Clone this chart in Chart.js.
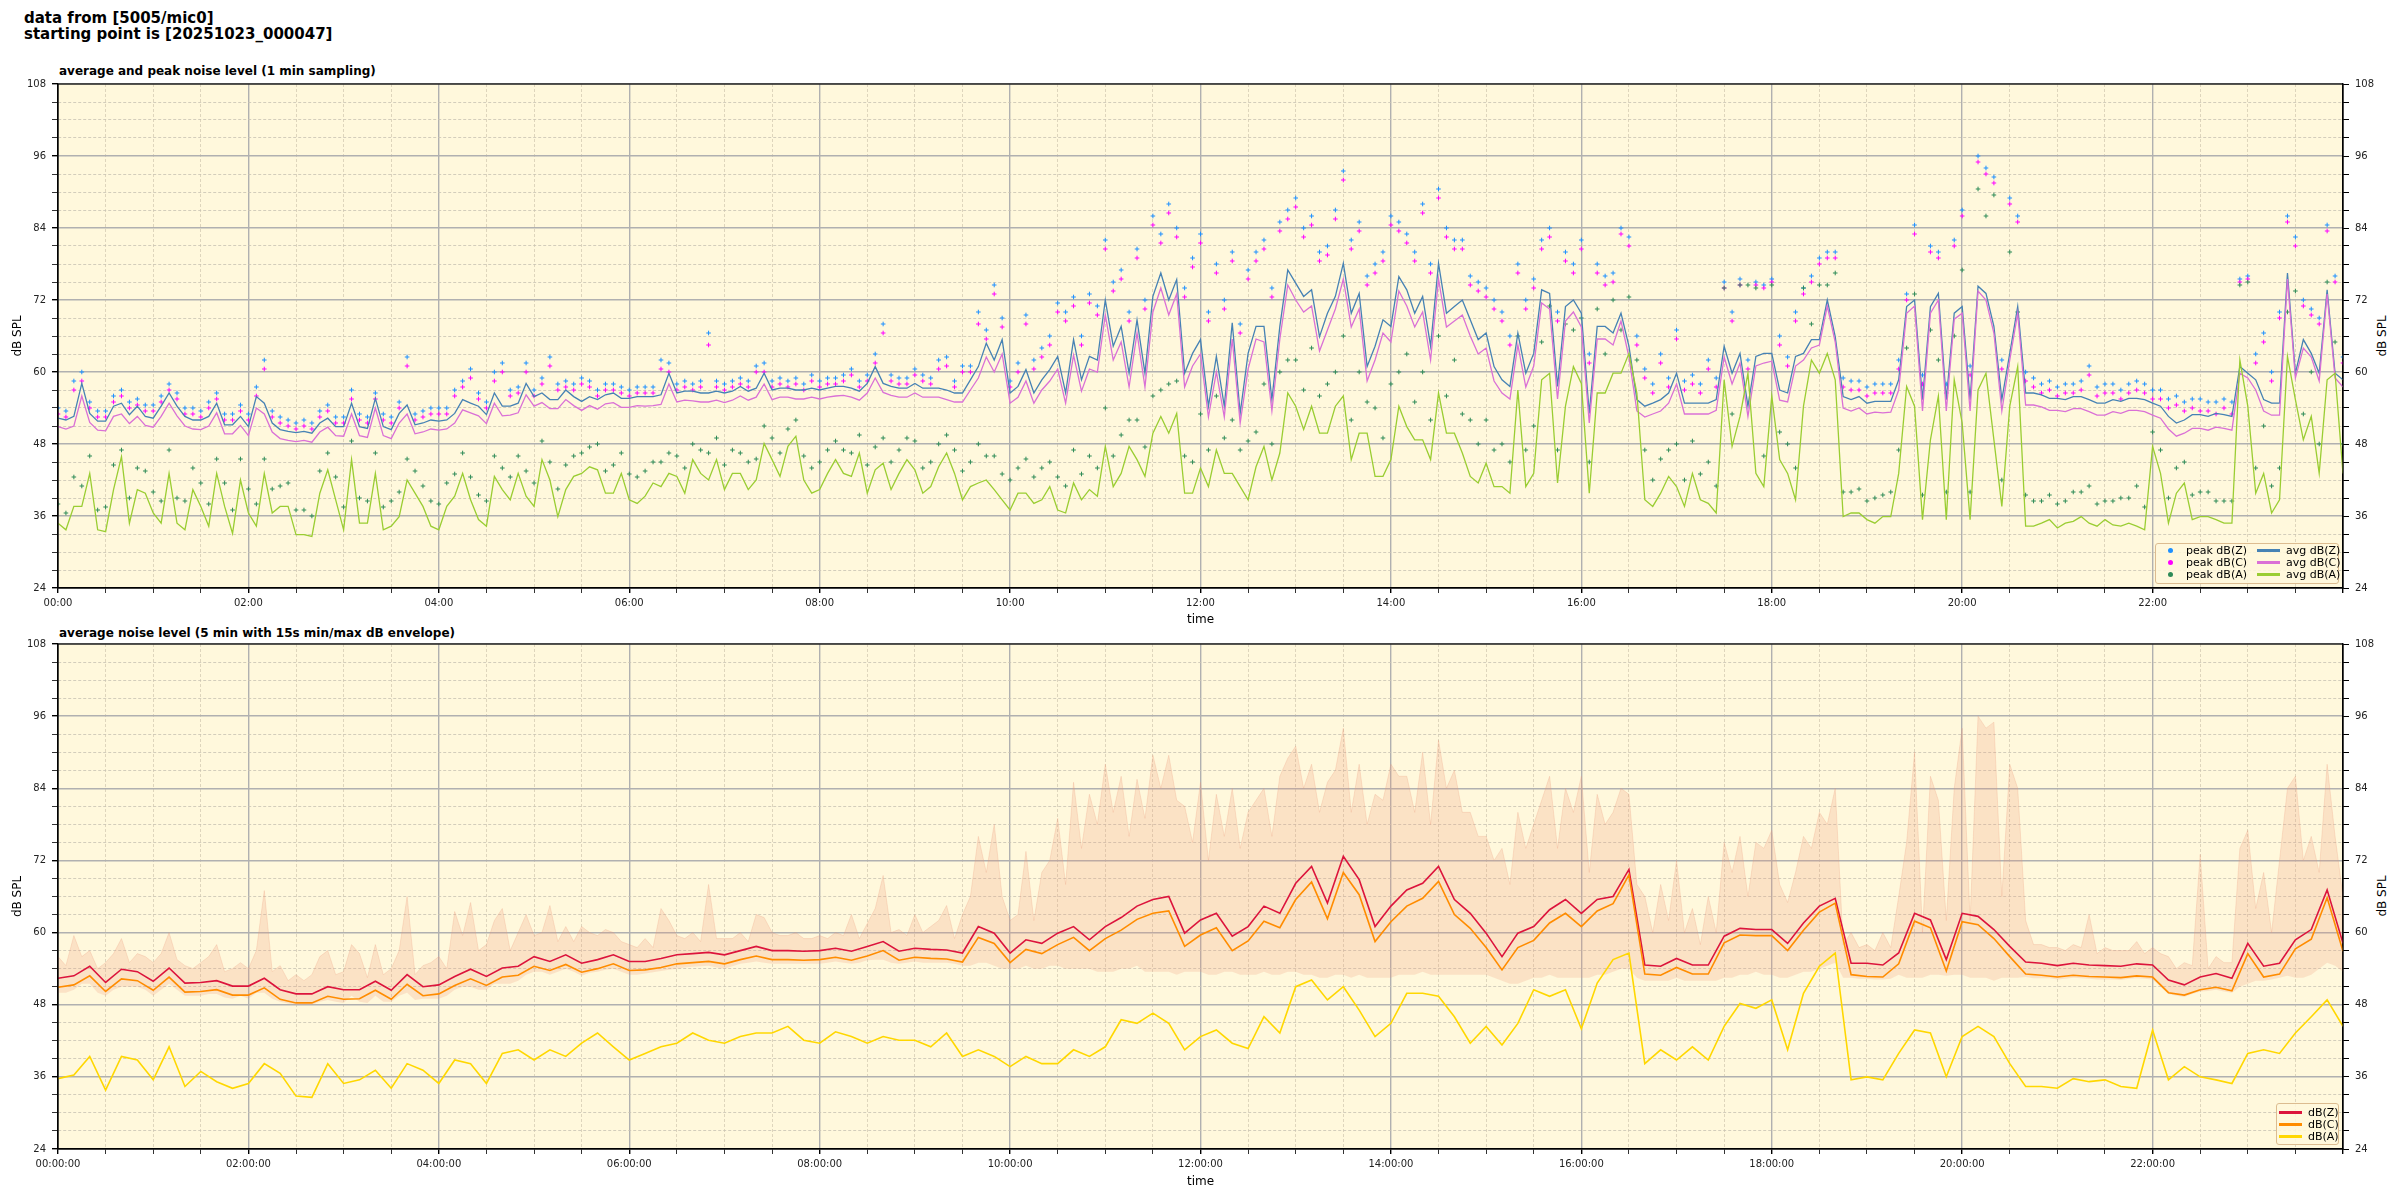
<!DOCTYPE html>
<html>
<head>
<meta charset="utf-8">
<script src="https://cdn.jsdelivr.net/npm/chart.js@4.4.1/dist/chart.umd.min.js"></script>
<style>
  html, body { margin: 0; padding: 0; background: #fff; }
  body { width: 2400px; height: 1200px; position: relative; overflow: hidden; font-family: "DejaVu Sans", sans-serif; color: #000; }
  canvas { position: absolute; left: 0; }
  #topCanvas { top: 0; }
  #botCanvas { top: 630px; }
  .head { position: absolute; left: 24px; top: 10px; font-weight: bold; font-size: 15px; line-height: 16px; }
  .sub { position: absolute; left: 59px; font-weight: bold; font-size: 12px; line-height: 14px; }
  .ylab-r { position: absolute; width: 60px; height: 14px; line-height: 14px; font-size: 12px; text-align: center; transform: rotate(-90deg); white-space: nowrap; }
  .legend { position: absolute; box-sizing: border-box; border: 1px solid #dcbc90; border-radius: 3px; background: rgba(255, 248, 220, 0.85); font-size: 11px; }
  .legend span { position: absolute; white-space: nowrap; line-height: 12px; }
  .legend i { position: absolute; display: block; }
</style>
</head>
<body>
<div class="head">data from [5005/mic0]<br>starting point is [20251023_000047]</div>
<div class="sub" style="top:64px">average and peak noise level (1 min sampling)</div>
<div class="sub" style="top:626px">average noise level (5 min with 15s min/max dB envelope)</div>
<div class="ylab-r" style="left:2352px; top:329px">dB SPL</div>
<div class="ylab-r" style="left:2352px; top:889px">dB SPL</div>

<canvas id="topCanvas" width="2400" height="630"></canvas>
<canvas id="botCanvas" width="2400" height="570"></canvas>

<div class="legend" style="left:2155px; top:543px; width:184px; height:41px;">
  <i style="left:12px; top:4px; width:5px; height:5px; border-radius:50%; background:#1e90ff"></i><span style="left:30px; top:1px">peak dB(Z)</span>
  <i style="left:12px; top:16px; width:5px; height:5px; border-radius:50%; background:#ff00ff"></i><span style="left:30px; top:13px">peak dB(C)</span>
  <i style="left:12px; top:28px; width:5px; height:5px; border-radius:50%; background:#2e8b57"></i><span style="left:30px; top:25px">peak dB(A)</span>
  <i style="left:101px; top:5px; width:23px; height:3px; background:#4682b4"></i><span style="left:130px; top:1px">avg dB(Z)</span>
  <i style="left:101px; top:17px; width:23px; height:3px; background:#da70d6"></i><span style="left:130px; top:13px">avg dB(C)</span>
  <i style="left:101px; top:29px; width:23px; height:3px; background:#9acd32"></i><span style="left:130px; top:25px">avg dB(A)</span>
</div>
<div class="legend" style="left:2276px; top:1103px; width:63px; height:42px;">
  <i style="left:2px; top:7px; width:23px; height:3px; background:#dc143c"></i><span style="left:31px; top:3px">dB(Z)</span>
  <i style="left:2px; top:19px; width:23px; height:3px; background:#ff8c00"></i><span style="left:31px; top:15px">dB(C)</span>
  <i style="left:2px; top:31px; width:23px; height:3px; background:#ffd700"></i><span style="left:31px; top:27px">dB(A)</span>
</div>

<script>
// 1 min sampling panel. Values on the 10 min marks (one row per hour, last value = 24:00),
// the *Mid arrays hold the readings 5 min after each mark.
const avgZ = [
  52.3, 52.6, 53.1, 51.8, 54.8, 54.3,
  52.3, 56.5, 52.6, 52.0, 54.8, 51.2,
  50.9, 54.8, 50.4, 49.9, 49.8, 52.3,
  50.9, 50.9, 55.6, 50.4, 54.5, 51.5,
  51.8, 53.1, 54.8, 52.9, 54.3, 54.8,
  55.9, 55.4, 57.0, 55.1, 55.4, 56.5,
  55.6, 55.9, 56.2, 56.5, 56.8, 56.5,
  56.5, 57.6, 57.3, 57.0, 57.3, 57.0,
  57.0, 57.6, 57.3, 58.1, 58.1, 57.3,
  58.1, 57.3, 57.0, 56.5, 60.9, 62.0,
  56.5, 60.4, 58.7, 62.6, 65.4, 62.6,
  72.0, 67.6, 68.7, 72.6, 72.0, 59.8,
  65.4, 62.6, 68.2, 63.1, 67.6, 67.6,
  74.8, 73.7, 69.8, 78.1, 73.1, 64.3,
  67.6, 73.7, 72.6, 78.1, 70.9, 68.7,
  66.5, 58.7, 66.5, 63.1, 73.1, 70.9,
  69.8, 67.6, 66.5, 64.3, 54.3, 55.4,
  59.8, 54.8, 54.8, 64.3, 63.1, 62.6,
  63.1, 56.5, 63.1, 65.4, 65.9, 55.4,
  54.8, 55.1, 58.7, 72.0, 70.9, 55.4,
  70.9, 74.3, 67.6, 63.1, 56.5, 56.2,
  55.6, 55.9, 55.4, 54.8, 55.1, 55.6,
  54.8, 52.6, 52.0, 52.9, 53.1, 52.6,
  59.8, 55.4, 54.8, 59.8, 63.1, 73.7,
  58.7
];
const avgZMid = [
  52.0, 58.1, 51.8, 54.3, 52.9, 52.6,
  54.3, 54.3, 52.0, 52.6, 51.2, 52.6,
  55.9, 51.5, 50.1, 50.1, 51.5, 50.9,
  54.8, 50.6, 50.9, 53.1, 51.2, 52.0,
  52.0, 55.4, 54.3, 56.5, 54.3, 58.1,
  56.5, 55.4, 55.9, 55.9, 56.2, 55.6,
  55.9, 55.9, 59.8, 56.8, 56.5, 56.8,
  56.8, 56.8, 59.8, 57.3, 57.0, 57.3,
  57.3, 57.6, 56.8, 60.9, 57.6, 57.3,
  57.3, 57.3, 56.5, 58.7, 64.8, 65.4,
  57.6, 56.5, 60.4, 56.5, 58.7, 62.0,
  64.3, 59.8, 59.8, 76.5, 75.4, 63.1,
  54.3, 54.3, 53.1, 67.6, 55.4, 77.0,
  72.6, 65.9, 72.6, 69.8, 60.9, 68.7,
  75.9, 69.8, 64.3, 69.8, 72.0, 65.4,
  60.9, 57.6, 59.8, 73.7, 57.6, 72.0,
  53.1, 67.6, 69.8, 55.4, 54.8, 56.5,
  54.8, 54.8, 55.4, 59.8, 54.3, 63.1,
  57.0, 62.6, 65.4, 72.0, 55.9, 55.9,
  55.1, 55.1, 70.9, 55.4, 73.1, 69.8,
  55.4, 73.1, 55.4, 70.9, 56.5, 55.6,
  55.4, 55.9, 54.8, 55.4, 55.6, 55.4,
  54.3, 51.5, 52.9, 52.6, 52.9, 60.9,
  58.7, 54.8, 76.5, 65.4, 59.8, 59.8
];
const avgC = [
  50.9, 51.0, 51.6, 50.2, 53.0, 52.6,
  50.8, 54.8, 51.0, 50.4, 53.2, 49.7,
  49.4, 53.0, 48.9, 48.4, 48.3, 50.8,
  49.3, 49.4, 54.0, 48.9, 53.0, 50.0,
  50.3, 51.5, 53.2, 51.4, 52.7, 53.2,
  54.3, 53.9, 55.4, 53.6, 53.8, 54.9,
  54.1, 54.3, 54.6, 55.0, 55.2, 55.0,
  54.9, 56.0, 55.8, 55.4, 55.8, 55.5,
  55.5, 56.0, 55.8, 56.5, 56.6, 55.8,
  56.5, 55.8, 55.4, 55.0, 59.0, 60.0,
  54.8, 58.5, 57.0, 60.5, 62.8, 60.5,
  69.5, 65.0, 66.5, 70.0, 69.5, 57.5,
  63.0, 60.0, 65.5, 60.5, 65.0, 65.5,
  72.0, 71.0, 67.0, 75.5, 70.5, 62.0,
  65.0, 71.0, 70.0, 75.5, 68.5, 66.0,
  64.0, 56.5, 64.5, 61.0, 70.5, 68.5,
  67.5, 65.5, 64.5, 62.5, 52.5, 53.5,
  58.0, 53.0, 53.0, 62.5, 61.5, 61.0,
  61.8, 55.0, 62.0, 64.5, 65.0, 53.5,
  53.0, 53.2, 57.0, 71.0, 69.8, 53.5,
  69.8, 73.5, 66.5, 62.0, 54.5, 54.2,
  53.6, 53.9, 53.4, 52.8, 53.1, 53.6,
  52.8, 50.5, 49.8, 50.6, 50.8, 50.3,
  59.0, 53.5, 52.8, 59.0, 62.5, 73.0,
  57.5
];
const avgCMid = [
  50.5, 56.0, 50.3, 52.6, 51.4, 51.1,
  52.6, 52.7, 50.5, 51.0, 49.7, 51.1,
  54.0, 50.0, 48.6, 48.6, 50.0, 49.4,
  53.0, 49.1, 49.4, 51.5, 49.7, 50.5,
  50.5, 53.7, 52.7, 54.8, 52.8, 56.2,
  54.9, 53.9, 54.4, 54.4, 54.7, 54.1,
  54.4, 54.4, 58.0, 55.3, 55.0, 55.3,
  55.3, 55.3, 58.0, 55.8, 55.5, 55.8,
  55.8, 56.1, 55.3, 59.0, 56.1, 55.8,
  55.8, 55.8, 55.0, 57.0, 62.5, 63.0,
  55.8, 54.8, 58.5, 54.8, 56.8, 60.0,
  62.0, 57.5, 57.5, 74.0, 73.0, 61.0,
  52.5, 52.5, 51.5, 65.5, 53.5, 74.5,
  70.0, 63.5, 70.5, 67.5, 58.5, 66.5,
  73.5, 67.5, 62.0, 67.5, 69.5, 63.0,
  58.5, 55.5, 57.5, 71.5, 55.5, 70.0,
  51.5, 65.5, 68.5, 53.5, 53.0, 54.8,
  53.0, 53.0, 53.6, 58.0, 52.6, 61.5,
  55.3, 61.0, 64.0, 71.0, 54.0, 54.0,
  53.3, 53.3, 69.8, 53.5, 72.0, 68.8,
  53.5, 72.0, 53.5, 69.8, 54.5, 53.6,
  53.4, 53.9, 52.8, 53.4, 53.6, 53.4,
  52.3, 49.3, 50.6, 50.3, 50.6, 59.8,
  57.0, 52.8, 75.5, 64.0, 58.5, 59.0
];
const avgA = [
  34.8, 37.6, 43.1, 33.4, 45.9, 40.4,
  36.5, 43.1, 33.7, 37.6, 43.1, 33.1,
  36.5, 43.1, 37.6, 32.9, 32.6, 43.7,
  33.7, 34.8, 43.1, 34.3, 42.0, 37.6,
  33.7, 39.3, 38.7, 34.3, 40.4, 43.1,
  37.6, 42.0, 40.4, 43.1, 43.7, 39.8,
  38.7, 39.3, 40.9, 42.6, 45.4, 42.0,
  40.4, 43.1, 42.0, 45.4, 47.6, 42.0,
  40.4, 45.4, 42.6, 39.8, 44.8, 43.1,
  43.7, 40.9, 46.5, 38.7, 41.5, 40.4,
  37.0, 39.8, 38.7, 37.0, 41.5, 40.4,
  47.6, 43.1, 45.4, 49.8, 49.8, 39.8,
  44.0, 47.0, 43.1, 38.7, 47.6, 46.5,
  54.3, 54.3, 49.8, 56.0, 49.8, 42.6,
  45.4, 50.9, 48.7, 56.5, 49.8, 42.6,
  44.8, 40.9, 57.0, 43.1, 59.8, 54.3,
  58.1, 56.5, 59.8, 63.1, 38.7, 39.8,
  40.9, 43.1, 38.1, 58.7, 52.6, 43.1,
  56.0, 43.1, 54.3, 59.8, 58.7, 36.5,
  35.4, 35.9, 43.1, 54.3, 48.7, 35.4,
  51.5, 57.0, 48.7, 54.3, 34.3, 34.8,
  34.0, 35.1, 34.8, 35.4, 34.3, 34.3,
  47.6, 34.8, 41.5, 35.9, 35.4, 34.8,
  54.3, 43.1, 38.7, 55.4, 52.6, 58.7,
  43.1
];
const avgAMid = [
  33.7, 37.6, 33.7, 40.4, 34.8, 39.8,
  34.8, 34.8, 40.4, 34.3, 37.6, 42.0,
  34.3, 36.5, 37.6, 32.9, 39.8, 38.7,
  45.4, 34.8, 33.7, 35.9, 39.8, 34.3,
  37.6, 43.1, 35.4, 42.6, 38.7, 39.3,
  45.4, 35.9, 42.6, 44.2, 39.8, 43.1,
  38.1, 41.5, 43.1, 39.8, 43.1, 45.4,
  43.1, 40.4, 48.1, 42.6, 49.3, 39.8,
  43.1, 43.1, 46.5, 43.7, 40.4, 45.4,
  39.8, 44.2, 43.1, 40.9, 42.0, 38.7,
  39.8, 38.1, 40.9, 36.5, 38.7, 39.3,
  40.9, 47.6, 42.6, 52.6, 53.1, 39.8,
  40.9, 43.1, 40.9, 44.2, 42.0, 56.5,
  50.4, 49.8, 54.3, 45.4, 49.8, 42.6,
  54.3, 48.7, 45.4, 49.8, 46.5, 41.5,
  40.9, 39.8, 40.9, 58.7, 41.5, 60.9,
  39.8, 56.5, 59.8, 56.5, 37.6, 42.6,
  37.6, 38.7, 36.5, 47.6, 59.8, 40.9,
  45.4, 38.7, 62.0, 63.1, 35.9, 36.5,
  34.8, 35.9, 57.6, 35.4, 56.0, 58.7,
  35.4, 59.8, 37.6, 60.9, 34.3, 35.4,
  34.8, 35.9, 34.3, 34.5, 34.8, 33.7,
  43.1, 39.8, 35.4, 35.9, 34.8, 62.0,
  39.8, 36.5, 62.6, 48.7, 43.1, 59.8
];
const peakZ = [
  54.0, 58.5, 55.0, 53.5, 57.0, 55.5,
  54.5, 58.0, 54.0, 53.5, 56.5, 53.0,
  53.0, 62.0, 52.5, 51.5, 51.5, 54.5,
  52.5, 53.0, 56.5, 52.5, 62.5, 53.5,
  54.0, 57.0, 60.5, 55.0, 61.5, 57.5,
  57.0, 62.5, 58.5, 59.0, 57.0, 58.0,
  57.0, 57.5, 62.0, 58.0, 58.0, 66.5,
  58.0, 59.0, 61.0, 58.5, 58.5, 58.0,
  58.5, 59.0, 60.5, 59.5, 68.0, 59.0,
  60.5, 59.0, 62.5, 61.0, 70.0, 74.5,
  58.5, 69.5, 64.0, 71.5, 72.5, 73.0,
  82.0, 77.0, 80.5, 86.0, 88.0, 74.0,
  83.0, 78.0, 80.0, 77.0, 82.0, 85.0,
  89.0, 86.0, 81.0, 93.5, 85.0, 78.0,
  86.0, 83.0, 88.0, 90.5, 82.0, 76.0,
  74.0, 70.0, 78.0, 75.5, 84.0, 80.0,
  82.0, 78.0, 76.5, 82.5, 60.5, 63.0,
  67.0, 59.5, 62.0, 75.0, 75.5, 75.0,
  75.5, 62.5, 74.0, 79.0, 80.0, 58.5,
  57.5, 58.0, 62.0, 84.5, 81.0, 58.0,
  87.0, 96.0, 92.5, 89.0, 60.0, 58.0,
  57.5, 58.0, 61.0, 58.0, 57.0, 58.5,
  57.0, 55.5, 55.0, 55.5, 55.0, 55.0,
  76.0, 66.5, 70.0, 82.5, 70.5, 84.5,
  62.5
];
const peakZMid = [
  53.5, 60.0, 53.5, 56.0, 55.0, 54.5,
  56.0, 56.5, 54.0, 55.0, 53.0, 54.5,
  57.5, 53.5, 52.0, 52.0, 53.5, 52.5,
  57.0, 52.5, 53.0, 55.0, 53.0, 54.0,
  54.0, 58.5, 56.5, 60.0, 57.0, 61.5,
  59.0, 58.0, 58.0, 58.5, 58.0, 57.5,
  57.5, 57.5, 61.5, 58.5, 58.5, 58.5,
  58.5, 58.5, 61.5, 59.0, 59.0, 59.5,
  59.0, 59.5, 58.5, 63.0, 59.5, 59.0,
  59.5, 62.0, 58.5, 61.0, 67.0, 69.0,
  61.5, 62.0, 66.0, 70.0, 66.0, 71.0,
  75.0, 70.0, 72.0, 83.0, 84.0, 79.0,
  70.0, 72.0, 68.0, 80.0, 74.0, 87.0,
  84.0, 80.0, 87.0, 82.0, 76.0, 80.0,
  85.0, 80.0, 78.0, 84.0, 82.0, 75.0,
  72.0, 66.0, 72.0, 82.0, 70.0, 78.0,
  63.0, 76.0, 84.0, 66.0, 58.0, 59.0,
  58.5, 58.0, 59.0, 70.0, 62.0, 74.5,
  66.0, 70.0, 76.0, 80.0, 59.0, 58.5,
  58.0, 58.0, 73.0, 59.5, 80.0, 82.0,
  61.0, 94.0, 62.0, 86.0, 59.0, 58.5,
  58.0, 58.5, 57.5, 58.0, 58.0, 58.0,
  57.0, 56.0, 55.5, 55.0, 55.5, 75.5,
  63.0, 60.0, 86.0, 72.0, 69.0, 76.0
];
const peakC = [
  53.0, 57.0, 54.0, 52.5, 56.0, 54.5,
  53.5, 57.0, 53.0, 52.5, 55.5, 52.0,
  52.0, 60.5, 51.5, 50.5, 50.5, 53.5,
  51.5, 52.0, 55.5, 51.5, 61.0, 52.5,
  53.0, 56.0, 59.0, 54.0, 60.0, 56.5,
  56.0, 61.0, 57.5, 58.0, 56.0, 57.0,
  56.0, 56.5, 60.5, 57.0, 57.0, 64.5,
  57.0, 58.0, 60.0, 57.5, 57.5, 57.0,
  57.5, 58.0, 59.5, 58.5, 66.5, 58.0,
  59.5, 58.0, 61.0, 60.0, 68.0, 73.0,
  57.5, 68.0, 62.5, 70.0, 71.0, 71.5,
  80.5, 75.5, 79.0, 84.5, 86.5, 72.5,
  81.5, 76.5, 78.5, 75.5, 80.5, 83.5,
  87.5, 84.5, 79.5, 92.0, 83.5, 76.5,
  84.5, 81.5, 86.5, 89.0, 80.5, 74.5,
  72.5, 68.5, 76.5, 74.0, 82.5, 78.5,
  80.5, 76.5, 75.0, 81.0, 59.0, 61.5,
  65.5, 58.0, 60.5, 74.0, 74.5, 74.5,
  75.0, 61.0, 73.0, 78.0, 79.0, 57.0,
  56.0, 56.5, 60.5, 83.0, 80.0, 56.5,
  86.0, 95.0, 91.5, 88.0, 58.5, 56.5,
  56.0, 56.5, 59.5, 56.5, 55.5, 57.0,
  55.5, 54.0, 53.5, 53.5, 53.0, 53.0,
  75.5, 65.0, 69.0, 81.0, 69.5, 83.5,
  61.5
];
const peakCMid = [
  52.5, 58.5, 52.5, 55.0, 54.0, 53.5,
  55.0, 55.5, 53.0, 54.0, 52.0, 53.5,
  56.0, 52.5, 51.0, 51.0, 52.5, 51.5,
  55.5, 51.5, 52.0, 54.0, 52.0, 53.0,
  53.0, 57.5, 55.5, 58.5, 56.0, 60.0,
  58.0, 57.0, 57.0, 57.5, 57.0, 56.5,
  56.5, 56.5, 60.0, 57.5, 57.5, 57.5,
  57.5, 57.5, 60.0, 58.0, 58.0, 58.5,
  58.0, 58.5, 57.5, 61.5, 58.5, 58.0,
  58.5, 60.5, 57.5, 60.0, 65.5, 67.5,
  60.0, 60.5, 64.5, 68.5, 64.5, 69.5,
  73.5, 68.5, 70.5, 81.5, 82.5, 77.5,
  68.5, 70.5, 66.5, 78.5, 72.5, 85.5,
  82.5, 78.5, 85.5, 80.5, 74.5, 78.5,
  83.5, 78.5, 76.5, 82.5, 80.5, 73.5,
  70.5, 64.5, 70.5, 80.5, 68.5, 76.5,
  61.5, 74.5, 83.0, 64.5, 56.5, 57.5,
  57.0, 56.5, 57.5, 68.5, 60.5, 74.0,
  64.5, 68.5, 75.0, 79.0, 57.5, 57.0,
  56.5, 56.5, 72.0, 58.0, 79.0, 81.0,
  59.5, 93.0, 60.5, 85.0, 57.5, 57.0,
  56.5, 57.0, 56.0, 56.5, 56.5, 56.5,
  55.5, 54.5, 54.0, 53.5, 54.0, 75.0,
  61.5, 58.5, 85.0, 71.0, 68.0, 75.0
];
const peakA = [
  38.0, 42.5, 46.0, 37.5, 47.0, 44.0,
  40.0, 47.0, 38.5, 41.5, 45.5, 37.0,
  40.5, 45.5, 41.0, 37.0, 36.0, 46.5,
  37.5, 39.0, 46.5, 38.5, 45.5, 41.0,
  38.0, 43.0, 42.5, 38.5, 44.0, 46.0,
  41.5, 45.0, 44.5, 46.5, 48.0, 44.5,
  43.0, 43.5, 45.0, 46.0, 48.0, 46.5,
  44.5, 46.5, 45.5, 49.0, 50.5, 46.0,
  45.0, 48.5, 46.5, 44.5, 49.0, 47.0,
  48.5, 45.0, 49.5, 43.5, 48.0, 46.0,
  42.0, 45.5, 44.0, 42.5, 47.0, 46.0,
  54.0, 49.5, 52.0, 56.0, 58.0, 46.0,
  53.0, 56.0, 52.0, 48.5, 58.0, 60.0,
  62.0, 64.0, 58.0, 66.0, 60.0, 54.0,
  58.0, 63.0, 60.0, 66.0, 62.0, 52.0,
  52.0, 48.0, 66.0, 51.0, 71.0, 68.0,
  69.0, 70.5, 72.0, 72.5, 47.0, 45.5,
  48.0, 48.5, 45.0, 74.0, 74.5, 74.0,
  74.5, 48.0, 74.0, 74.5, 76.5, 40.0,
  38.5, 39.5, 47.0, 73.0, 67.0, 40.0,
  77.0, 90.5, 89.5, 80.0, 39.5, 38.5,
  38.0, 40.0, 41.0, 38.5, 39.0, 41.0,
  50.0, 39.0, 45.0, 40.0, 38.5, 38.5,
  75.0, 51.0, 44.0, 73.5, 60.0, 75.0,
  48.0
];
const peakAMid = [
  36.5, 41.0, 37.0, 44.5, 39.0, 43.5,
  38.5, 39.0, 44.0, 38.0, 41.5, 45.5,
  38.0, 40.5, 41.5, 37.0, 43.5, 42.5,
  48.5, 38.5, 37.5, 40.0, 43.5, 38.5,
  41.5, 46.5, 39.5, 46.0, 42.5, 43.5,
  48.5, 40.5, 46.0, 47.5, 43.5, 46.5,
  42.5, 45.0, 46.5, 44.0, 47.0, 49.0,
  47.0, 45.0, 51.0, 46.5, 52.0, 44.0,
  47.0, 47.0, 49.5, 47.5, 45.0, 49.0,
  44.0, 48.0, 47.0, 45.0, 46.0, 43.0,
  44.0, 42.5, 45.0, 41.0, 43.0, 44.0,
  46.0, 52.0, 47.5, 57.0, 58.5, 45.0,
  47.0, 49.0, 47.0, 50.0, 48.0, 62.0,
  57.0, 56.0, 60.0, 52.0, 55.0, 49.0,
  60.0, 55.0, 52.0, 56.0, 53.0, 48.0,
  47.0, 45.0, 47.0, 65.0, 47.0, 67.0,
  45.0, 63.0, 67.0, 62.0, 42.0, 47.0,
  42.0, 43.0, 41.0, 53.0, 74.5, 46.0,
  50.0, 44.0, 68.0, 74.5, 40.0, 40.5,
  39.0, 40.0, 64.0, 39.5, 62.0, 66.0,
  40.0, 86.0, 42.0, 70.0, 38.5, 39.5,
  38.5, 40.0, 38.0, 38.5, 39.0, 37.5,
  47.0, 44.0, 39.5, 40.0, 38.5, 74.5,
  44.0, 41.0, 70.0, 53.0, 48.0, 65.0
];

// 5 min average panel, read every 10 min
const lvlZ = [
  52.4, 52.8, 54.4, 51.7, 53.9, 53.5,
  51.9, 54.1, 51.6, 51.7, 52.0, 51.1,
  51.1, 52.4, 50.5, 49.8, 49.8, 51.0,
  50.5, 50.5, 51.9, 50.4, 53.0, 51.0,
  51.3, 52.7, 53.9, 52.7, 54.1, 54.4,
  56.0, 55.2, 56.3, 54.9, 55.5, 56.3,
  55.2, 55.2, 55.7, 56.3, 56.5, 56.7,
  56.3, 57.0, 57.7, 57.0, 57.0, 56.9,
  57.0, 57.4, 56.9, 57.7, 58.5, 56.9,
  57.4, 57.2, 57.1, 56.6, 61.0, 59.9,
  56.6, 58.8, 58.2, 59.9, 61.0, 58.8,
  61.0, 62.5, 64.4, 65.5, 66.0, 59.9,
  62.1, 63.2, 59.4, 61.0, 64.4, 63.2,
  68.2, 71.0, 64.9, 72.7, 68.8, 61.0,
  64.4, 67.1, 68.2, 71.0, 65.5, 63.2,
  59.9, 56.0, 59.9, 61.0, 63.8, 65.5,
  63.2, 65.5, 66.0, 70.5, 54.6, 54.4,
  55.7, 54.6, 54.6, 59.4, 60.7, 60.5,
  60.5, 58.2, 61.6, 64.4, 65.7, 54.9,
  54.9, 54.6, 56.6, 63.2, 62.1, 55.5,
  63.2, 62.7, 60.5, 57.7, 55.1, 54.9,
  54.5, 54.9, 54.6, 54.5, 54.4, 54.8,
  54.6, 52.1, 51.3, 52.6, 53.2, 52.4,
  58.2, 54.4, 54.9, 58.8, 60.5, 67.1,
  58.2
];
const lvlC = [
  50.9, 51.3, 52.8, 50.2, 52.3, 52.0,
  50.4, 52.6, 50.1, 50.2, 50.5, 49.6,
  49.6, 50.8, 48.9, 48.3, 48.3, 49.4,
  48.9, 49.0, 50.4, 48.9, 51.4, 49.5,
  49.8, 51.2, 52.3, 51.2, 52.6, 52.9,
  54.4, 53.7, 54.7, 53.4, 54.0, 54.8,
  53.7, 53.8, 54.2, 54.8, 55.0, 55.2,
  54.8, 55.5, 56.1, 55.5, 55.5, 55.4,
  55.5, 55.9, 55.4, 56.1, 57.0, 55.4,
  55.9, 55.7, 55.6, 55.1, 59.2, 58.2,
  55.0, 57.2, 56.5, 58.0, 59.2, 57.0,
  59.0, 60.4, 62.2, 63.2, 63.6, 57.7,
  59.6, 60.8, 57.0, 58.6, 61.9, 60.8,
  65.5, 68.4, 62.3, 70.0, 66.3, 58.5,
  61.8, 64.4, 65.7, 68.5, 63.0, 60.7,
  57.5, 53.8, 57.5, 58.7, 61.6, 63.2,
  61.0, 63.6, 64.8, 69.6, 53.1, 52.9,
  54.2, 53.1, 53.1, 58.3, 59.6, 59.5,
  59.5, 57.0, 60.4, 63.4, 64.9, 53.0,
  52.7, 52.6, 54.8, 61.9, 60.8, 53.6,
  61.8, 61.3, 59.0, 56.0, 53.1, 52.9,
  52.6, 52.9, 52.7, 52.6, 52.5, 52.8,
  52.6, 50.0, 49.6, 50.5, 50.9, 50.3,
  56.5, 52.6, 53.1, 57.3, 58.9, 65.8,
  56.9
];
const lvlA = [
  35.7, 36.3, 39.4, 33.8, 39.4, 38.8,
  35.5, 41.0, 34.4, 36.9, 35.2, 34.1,
  34.9, 38.2, 36.6, 32.8, 32.6, 38.2,
  34.9, 35.5, 37.1, 34.1, 38.2, 37.1,
  34.9, 38.8, 38.2, 34.9, 39.9, 40.5,
  38.8, 40.5, 39.4, 41.6, 43.3, 41.0,
  38.8, 39.9, 41.0, 41.6, 43.3, 42.1,
  41.6, 42.7, 43.3, 43.3, 44.4, 42.1,
  41.6, 43.5, 42.7, 41.6, 42.7, 42.1,
  42.1, 41.0, 43.3, 39.4, 40.5, 39.4,
  37.7, 39.4, 38.2, 38.2, 40.5, 39.4,
  41.0, 45.5, 44.9, 46.6, 44.9, 40.5,
  42.7, 43.8, 41.6, 40.7, 46.0, 43.3,
  51.0, 52.1, 48.8, 51.0, 47.1, 42.7,
  44.9, 49.9, 49.9, 49.4, 46.0, 41.6,
  44.4, 41.3, 44.9, 50.5, 49.4, 50.5,
  44.0, 51.6, 55.5, 56.6, 38.2, 40.5,
  38.8, 41.0, 38.8, 44.4, 48.2, 47.4,
  48.8, 40.5, 49.9, 54.4, 56.6, 35.5,
  36.0, 35.5, 39.9, 43.8, 43.3, 36.0,
  42.7, 44.4, 42.7, 38.2, 34.4, 34.4,
  34.1, 35.7, 35.2, 35.5, 34.4, 34.1,
  43.8, 35.5, 37.7, 36.0, 35.5, 34.9,
  39.9, 40.5, 39.9, 43.3, 46.0, 48.8,
  44.4
];
// 15 s min / max envelope, on the 10 min marks and 5 min after them
const envMin = [
  50.0, 50.5, 51.5, 49.5, 51.0, 51.0,
  49.5, 51.5, 49.5, 49.5, 49.8, 49.0,
  49.0, 50.0, 48.5, 48.0, 48.0, 48.8,
  48.3, 48.5, 49.5, 48.5, 50.0, 49.0,
  49.0, 50.5, 51.0, 50.5, 51.5, 52.0,
  53.5, 53.0, 54.0, 52.8, 53.5, 54.0,
  53.0, 53.2, 53.6, 54.0, 54.3, 54.5,
  54.0, 54.8, 55.2, 54.8, 54.8, 54.8,
  54.8, 55.2, 54.8, 55.4, 55.5, 54.8,
  55.2, 55.0, 55.0, 54.5, 55.0, 54.5,
  54.0, 54.5, 54.0, 54.5, 54.0, 54.0,
  53.5, 54.0, 54.5, 53.5, 53.5, 53.5,
  53.5, 53.0, 53.5, 53.0, 53.5, 53.0,
  53.5, 53.0, 52.5, 53.0, 53.0, 52.5,
  52.5, 53.0, 53.5, 53.0, 53.0, 53.0,
  53.0, 52.0, 51.5, 52.5, 53.0, 52.5,
  52.5, 53.0, 53.5, 54.0, 52.0, 52.0,
  52.5, 52.0, 52.0, 52.5, 53.0, 53.5,
  53.0, 52.5, 53.5, 54.0, 55.0, 52.5,
  52.3, 52.2, 53.0, 52.5, 53.0, 52.8,
  53.0, 52.5, 52.0, 52.5, 52.6, 52.4,
  52.2, 52.5, 52.3, 52.2, 52.1, 52.4,
  52.2, 49.8, 49.3, 50.2, 50.5, 50.0,
  51.5, 52.0, 52.5, 52.5, 53.0, 55.0,
  53.5
];
const envMinMid = [
  50.0, 51.5, 50.0, 50.5, 51.0, 50.5,
  50.5, 50.5, 49.5, 49.8, 49.2, 49.5,
  50.0, 49.0, 48.2, 48.0, 48.5, 48.5,
  49.5, 48.3, 48.5, 49.5, 48.8, 49.0,
  49.5, 51.0, 50.5, 51.5, 51.5, 53.0,
  53.5, 53.5, 53.5, 53.3, 53.8, 53.5,
  53.0, 53.4, 53.8, 54.2, 54.4, 54.2,
  54.4, 55.0, 55.0, 54.8, 54.8, 54.8,
  55.0, 55.0, 55.0, 55.5, 55.0, 55.0,
  55.0, 55.0, 54.8, 54.5, 55.0, 54.0,
  54.0, 54.0, 54.5, 54.0, 54.0, 53.5,
  53.5, 54.0, 53.5, 53.5, 53.0, 53.5,
  53.0, 53.5, 53.0, 53.0, 53.0, 53.5,
  53.0, 52.5, 53.0, 52.5, 52.5, 52.5,
  53.0, 53.0, 53.0, 53.0, 53.0, 53.0,
  52.5, 51.5, 52.0, 52.5, 52.5, 52.5,
  52.5, 53.0, 54.0, 52.5, 52.0, 52.0,
  52.0, 52.0, 52.0, 52.5, 53.0, 53.0,
  52.5, 53.0, 53.5, 54.5, 52.5, 52.3,
  52.2, 52.3, 52.5, 52.5, 53.0, 53.0,
  52.5, 52.5, 52.5, 52.5, 52.4, 52.4,
  52.3, 52.4, 52.2, 52.2, 52.3, 52.3,
  51.0, 49.5, 49.8, 50.3, 50.2, 51.0,
  52.0, 52.2, 52.8, 52.5, 54.0, 54.5
];
const envMax = [
  56.0, 59.5, 57.0, 55.0, 59.0, 56.5,
  55.0, 60.0, 54.5, 55.0, 58.0, 54.0,
  54.0, 67.0, 54.5, 53.0, 53.0, 57.0,
  53.5, 56.5, 58.0, 54.0, 66.0, 54.5,
  56.0, 63.5, 65.0, 58.0, 64.0, 60.0,
  59.5, 64.5, 61.0, 61.0, 59.5, 60.0,
  58.0, 59.0, 64.0, 59.5, 60.0, 68.0,
  59.0, 60.0, 63.0, 60.0, 59.5, 59.0,
  59.5, 60.0, 63.0, 61.5, 69.5, 60.5,
  63.0, 61.0, 64.5, 63.0, 76.0, 78.0,
  62.0, 73.5, 70.0, 79.0, 85.0, 83.0,
  88.0, 86.0, 85.5, 89.5, 89.5, 81.0,
  85.0, 83.0, 84.0, 80.0, 84.0, 86.0,
  91.0, 88.0, 85.0, 94.0, 88.0, 83.0,
  88.0, 86.0, 90.0, 92.0, 87.0, 80.0,
  76.0, 74.0, 80.0, 78.0, 86.0, 84.0,
  86.0, 83.0, 80.0, 83.0, 66.0, 68.0,
  72.0, 64.0, 66.0, 75.0, 76.0, 75.0,
  77.0, 65.0, 76.0, 80.0, 84.0, 60.0,
  58.0, 60.0, 66.0, 90.0, 86.0, 62.0,
  94.0, 96.0, 95.0, 88.0, 62.0, 58.0,
  57.5, 58.0, 63.0, 57.5, 57.0, 58.5,
  57.5, 56.0, 55.0, 73.0, 56.0, 55.0,
  77.0, 70.0, 72.0, 86.0, 76.0, 88.0,
  66.0
];
const envMaxMid = [
  54.5, 56.0, 54.0, 56.5, 55.0, 56.0,
  56.5, 55.5, 54.0, 56.0, 53.5, 55.0,
  57.0, 53.5, 52.0, 52.0, 56.0, 53.0,
  58.0, 52.5, 53.0, 57.0, 53.0, 55.0,
  54.0, 59.5, 57.0, 62.0, 57.0, 63.0,
  60.0, 58.5, 58.5, 60.0, 60.5, 58.5,
  57.5, 57.5, 62.0, 59.0, 58.5, 59.0,
  59.0, 58.5, 62.5, 59.5, 60.0, 59.0,
  59.0, 59.5, 59.0, 64.0, 60.0, 59.5,
  60.0, 62.0, 59.0, 66.0, 70.0, 66.0,
  63.0, 62.0, 72.0, 68.0, 74.0, 78.0,
  80.0, 76.0, 79.0, 84.0, 82.0, 75.0,
  72.0, 76.0, 74.0, 82.0, 76.0, 89.0,
  84.0, 80.0, 87.0, 80.0, 78.0, 82.0,
  86.0, 80.0, 78.0, 84.0, 80.0, 76.0,
  72.0, 68.0, 74.0, 82.0, 74.0, 80.0,
  70.0, 78.0, 84.0, 68.0, 60.0, 62.0,
  60.0, 58.0, 60.0, 70.0, 66.0, 74.0,
  68.0, 70.0, 74.0, 78.0, 58.0, 57.5,
  57.0, 57.5, 75.0, 60.0, 82.0, 84.0,
  62.0, 94.0, 66.0, 84.0, 58.0, 57.5,
  57.0, 57.5, 56.5, 57.0, 57.0, 56.5,
  56.5, 54.0, 54.5, 54.0, 55.0, 74.0,
  64.0, 60.0, 84.0, 72.0, 70.0, 76.0
];

// points on the 10 min marks, with the optional 5 min readings slotted in between
function series(onMarks, mids) {
  const out = [];
  onMarks.forEach((v, i) => {
    out.push({ x: i * 10, y: v });
    if (mids && i < mids.length) out.push({ x: i * 10 + 5, y: mids[i] });
  });
  return out;
}

function hhmm(v, secs) {
  const h = String(Math.floor(v / 60)).padStart(2, '0');
  const m = String(v % 60).padStart(2, '0');
  return secs ? h + ':' + m + ':00' : h + ':' + m;
}

const isMajorX = c => c.tick && c.tick.value % 120 === 0;
const isMajorY = c => c.tick && (c.tick.value - 24) % 12 === 0;

// cornsilk plot background and the frame round it
const frame = {
  id: 'frame',
  beforeDraw(chart) {
    const a = chart.chartArea, ctx = chart.ctx;
    ctx.save();
    ctx.fillStyle = '#fff8dc';
    ctx.fillRect(a.left, a.top, a.right - a.left, a.bottom - a.top);
    ctx.restore();
  },
  afterDatasetsDraw(chart) {
    const a = chart.chartArea, ctx = chart.ctx;
    ctx.save();
    ctx.strokeStyle = '#000';
    ctx.lineWidth = 1.2;
    ctx.strokeRect(a.left, a.top, a.right - a.left, a.bottom - a.top);
    ctx.restore();
  }
};

function makeScales(withSecs, axisHeight, titlePad) {
  const yTicks = {
    stepSize: 3, autoSkip: false, padding: 6, color: '#222', font: { size: 10 },
    callback: v => (v - 24) % 12 === 0 ? String(v) : ''
  };
  return {
    x: {
      type: 'linear', min: 0, max: 1440,
      afterFit: s => { s.height = axisHeight; },
      ticks: {
        stepSize: 30, autoSkip: false, maxRotation: 0, padding: 4, color: '#222', font: { size: 10 },
        callback: v => (v % 120 === 0 && v < 1440) ? hhmm(v, withSecs) : ''
      },
      grid: {
        color: c => isMajorX(c) ? '#b0b0b0' : '#d6ccb4',
        lineWidth: c => isMajorX(c) ? 1.4 : 0.8,
        tickColor: '#000', tickLength: 5
      },
      border: { color: '#000', width: 1.2, dash: c => (c.tick && !isMajorX(c)) ? [3, 2] : [] },
      title: { display: true, text: 'time', color: '#000', font: { size: 12 }, padding: { top: 0, bottom: titlePad } }
    },
    y: {
      position: 'left', min: 24, max: 108,
      afterFit: s => { s.width = 58; },
      ticks: yTicks,
      grid: {
        color: c => isMajorY(c) ? '#b0b0b0' : '#c8c2b2',
        lineWidth: c => isMajorY(c) ? 1.4 : 0.8,
        tickColor: '#000', tickLength: 6
      },
      border: { color: '#000', width: 1.2, dash: c => (c.tick && !isMajorY(c)) ? [3, 2] : [] },
      title: { display: true, text: 'dB SPL', color: '#000', font: { size: 12 }, padding: { top: 11, bottom: 0 } }
    },
    y2: {
      position: 'right', min: 24, max: 108,
      afterFit: s => { s.width = 57; },
      ticks: yTicks,
      grid: { drawOnChartArea: false, tickColor: '#000', tickLength: 6 },
      border: { color: '#000', width: 1.2 }
    }
  };
}

// lower "order" is painted later, i.e. on top
function peakSet(label, data, color, order) {
  return {
    label, data, order, showLine: false,
    pointStyle: 'cross', pointRadius: 2.3, pointBorderWidth: 1,
    borderColor: color, backgroundColor: color
  };
}
function lineSet(label, data, color, width, order) {
  return {
    label, data, order, borderColor: color, backgroundColor: color,
    borderWidth: width, pointRadius: 0, tension: 0, fill: false
  };
}

Chart.defaults.font.family = '"DejaVu Sans", sans-serif';

new Chart(document.getElementById('topCanvas'), {
  type: 'line',
  data: {
    datasets: [
      peakSet('peak dB(Z)', series(peakZ, peakZMid), '#1e90ff', 6),
      peakSet('peak dB(C)', series(peakC, peakCMid), '#ff00ff', 5),
      peakSet('peak dB(A)', series(peakA, peakAMid), '#2e8b57', 4),
      lineSet('avg dB(Z)', series(avgZ, avgZMid), '#4682b4', 1.3, 3),
      lineSet('avg dB(C)', series(avgC, avgCMid), '#da70d6', 1.3, 2),
      lineSet('avg dB(A)', series(avgA, avgAMid), '#9acd32', 1.3, 1)
    ]
  },
  options: {
    responsive: false, animation: false,
    layout: { padding: { top: 84, left: 0, right: 0, bottom: 0 } },
    scales: makeScales(false, 42, 3),
    plugins: { legend: { display: false }, tooltip: { enabled: false } }
  },
  plugins: [frame]
});

new Chart(document.getElementById('botCanvas'), {
  type: 'line',
  data: {
    datasets: [
      {
        label: 'min', data: series(envMin, envMinMid), order: 5, borderWidth: 0, pointRadius: 0, tension: 0,
        borderColor: 'rgba(0,0,0,0)', fill: false
      },
      {
        label: 'max', data: series(envMax, envMaxMid), order: 4, borderWidth: 0.8, pointRadius: 0, tension: 0,
        borderColor: 'rgba(236,150,120,0.3)', backgroundColor: 'rgba(236,150,120,0.22)', fill: '-1'
      },
      lineSet('dB(Z)', series(lvlZ), '#dc143c', 1.6, 3),
      lineSet('dB(C)', series(lvlC), '#ff8c00', 1.6, 2),
      lineSet('dB(A)', series(lvlA), '#ffd700', 1.6, 1)
    ]
  },
  options: {
    responsive: false, animation: false,
    layout: { padding: { top: 14, left: 0, right: 0, bottom: 0 } },
    scales: makeScales(true, 51, 11),
    plugins: { legend: { display: false }, tooltip: { enabled: false } }
  },
  plugins: [frame]
});
</script>
</body>
</html>
